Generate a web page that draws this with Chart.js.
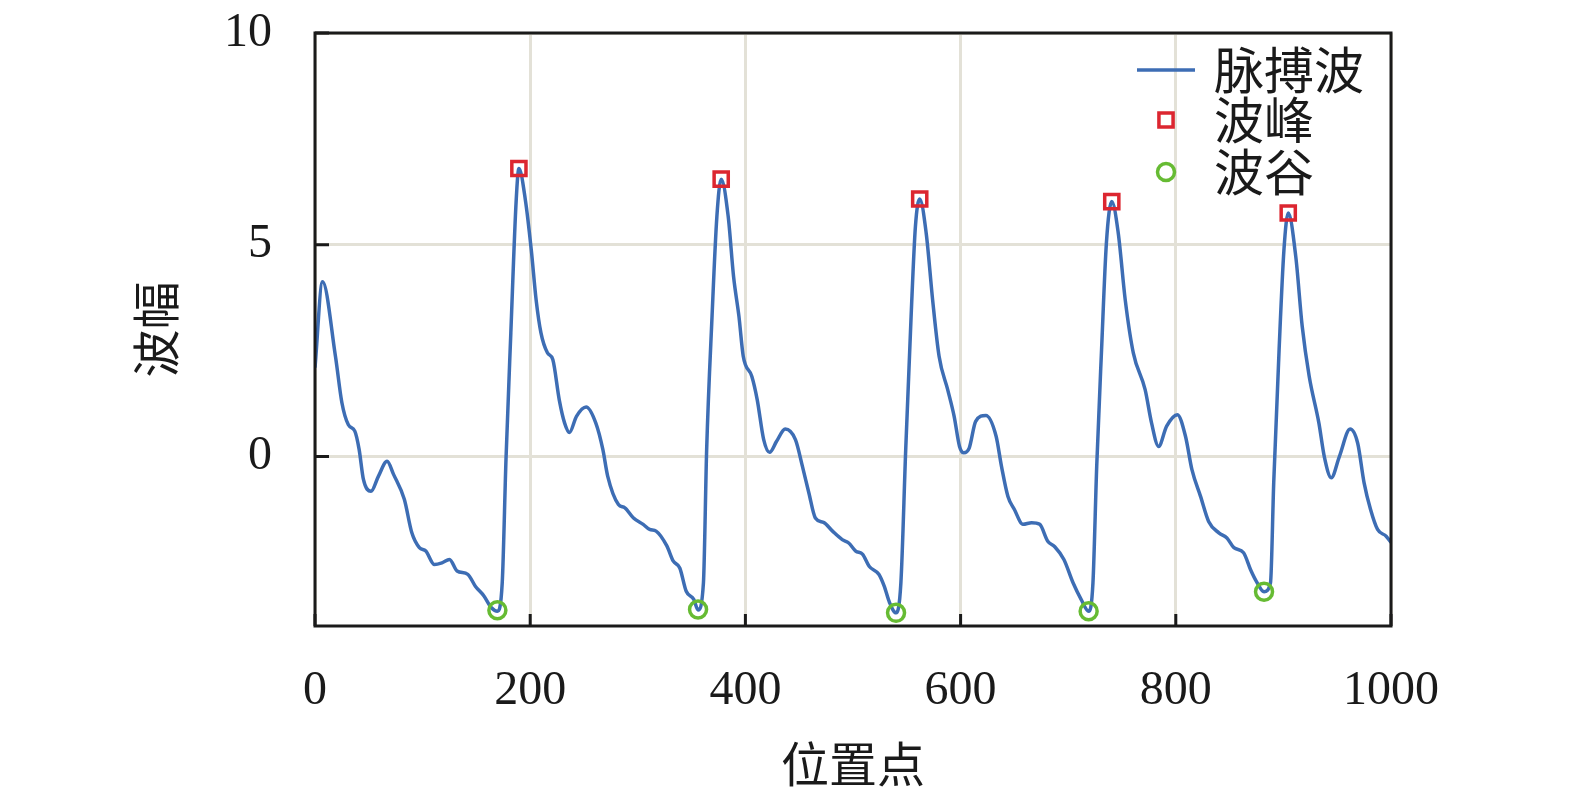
<!DOCTYPE html>
<html>
<head>
<meta charset="utf-8">
<script src="https://cdn.jsdelivr.net/npm/chart.js@4.4.0/dist/chart.umd.min.js"></script>
<style>
  html, body { margin: 0; padding: 0; background: #fff; }
  #c { display: block; }
</style>
</head>
<body>
<canvas id="c" width="1575" height="799"></canvas>
<script>
// pulse wave
const pulseX = [0, 7, 19, 25, 31, 37, 41, 45, 52, 59, 67, 73, 83, 90, 97, 103, 111, 118, 125, 132, 142, 149, 157, 164, 169.5,
  174, 177.5, 182, 187, 189.5, 195.5, 201, 205.5, 210, 216, 221, 227, 232, 236.5, 243, 252, 261, 267.5, 272, 282, 288, 296,
  305, 311, 317, 327, 333, 339, 345, 352, 356, 361, 364, 369, 373.5, 377.5, 384, 389, 394, 398, 406, 411, 417, 422.5, 429,
  437, 446.5, 453, 459, 465, 473, 481, 490, 496, 502.5, 509, 515, 524, 529, 534, 540, 544.5, 549, 554, 558, 562, 568, 574,
  580, 588, 594, 599, 603, 608, 614, 623.5, 633, 638, 644, 650, 658, 666, 673.5, 681, 687.5, 696, 704.5, 712, 719, 723,
  726.5, 731, 735.5, 740.5, 746.5, 753, 760.5, 771.5, 777.5, 784, 791.5, 801.5, 809, 815, 823, 830.5, 840, 847.5, 854, 863,
  869.5, 875, 882, 888, 891, 896, 900.5, 904.5, 911.5, 917.5, 924, 933, 938, 944.5, 952, 962, 969, 975, 981, 987.5, 995.5, 1000];
const pulseY = [2.1, 4.13, 2.37, 1.27, 0.75, 0.6, 0.17, -0.54, -0.82, -0.46, -0.11, -0.42, -1.01, -1.8, -2.15, -2.23, -2.55, -2.51, -2.43, -2.7, -2.78, -3.06, -3.29, -3.57, -3.65,
  -2.98, -0.07, 2.92, 6.06, 6.8, 6.06, 4.88, 3.7, 2.92, 2.45, 2.29, 1.34, 0.79, 0.57, 0.95, 1.17, 0.79, 0.17, -0.46, -1.13, -1.21, -1.45,
  -1.6, -1.72, -1.76, -2.11, -2.47, -2.63, -3.18, -3.37, -3.62, -2.98, 0.17, 3.31, 5.67, 6.55, 5.67, 4.25, 3.31, 2.37, 1.89, 1.34, 0.4, 0.1, 0.36,
  0.65, 0.4, -0.23, -0.86, -1.45, -1.56, -1.76, -1.96, -2.04, -2.23, -2.31, -2.59, -2.78, -3.06, -3.45, -3.69, -2.98, 0.17, 3.31, 5.43, 6.08, 5.28, 3.7,
  2.37, 1.58, 0.95, 0.24, 0.09, 0.2, 0.83, 0.97, 0.48, -0.23, -0.94, -1.25, -1.6, -1.56, -1.6, -2.0, -2.13, -2.43, -2.98, -3.37, -3.65, -2.98,
  -0.23, 2.52, 5.04, 6.02, 5.28, 3.7, 2.45, 1.58, 0.79, 0.24, 0.72, 0.99, 0.48, -0.31, -0.94, -1.53, -1.8, -1.92, -2.15, -2.27,
  -2.67, -2.95, -3.19, -2.98, -0.62, 2.52, 4.88, 5.75, 4.72, 3.07, 1.89, 0.79, 0.0, -0.5, 0.0, 0.65, 0.32, -0.62, -1.25, -1.72, -1.88, -2.03];

const peakX = [189.5, 377.5, 562, 740.5, 904.5];
const peakY = [6.8, 6.55, 6.08, 6.02, 5.75];
const troughX = [169.5, 356, 540, 719, 882];
const troughY = [-3.63, -3.61, -3.69, -3.65, -3.19];

const xTicks = [0, 200, 400, 600, 800, 1000];
const yTicks = [0, 5, 10];
const seriesNames = ["脉搏波", "波峰", "波谷"];
const xTitle = "位置点";
const yTitle = "波幅";

const toPoints = (xs, ys) => xs.map((x, i) => ({ x: x, y: ys[i] }));

const cjk = "'Noto Sans CJK SC', 'Noto Sans CJK JP', sans-serif";
const serif = "'Liberation Serif', 'DejaVu Serif', serif";

// box round the plot + short ticks pointing inwards
const frameTicks = {
  id: "frameTicks",
  afterDatasetsDraw(chart) {
    const { ctx, chartArea: a, scales } = chart;
    ctx.save();
    ctx.strokeStyle = "#1a1a1a";
    ctx.lineWidth = 3;
    ctx.beginPath();
    scales.x.ticks.forEach((t) => {
      const px = scales.x.getPixelForValue(t.value);
      ctx.moveTo(px, a.bottom);
      ctx.lineTo(px, a.bottom - 12);
    });
    scales.y.ticks.forEach((t) => {
      const py = scales.y.getPixelForValue(t.value);
      ctx.moveTo(a.left, py);
      ctx.lineTo(a.left + 14, py);
    });
    ctx.stroke();
    ctx.strokeRect(a.left, a.top, a.right - a.left, a.bottom - a.top);
    ctx.restore();
  },
};

// legend sits inside the plot, top right
const innerLegend = {
  id: "innerLegend",
  afterDraw(chart) {
    const { ctx, chartArea: a } = chart;
    const sampleX = a.right - 225;
    const textX = a.right - 177;
    const rows = [a.top + 37, a.top + 87, a.top + 139];
    ctx.save();
    chart.data.datasets.forEach((ds, i) => {
      const y = rows[i];
      if (ds.showLine !== false) {
        ctx.strokeStyle = ds.borderColor;
        ctx.lineWidth = ds.borderWidth;
        ctx.beginPath();
        ctx.moveTo(sampleX - 29, y);
        ctx.lineTo(sampleX + 29, y);
        ctx.stroke();
      } else {
        ctx.strokeStyle = ds.pointBorderColor;
        ctx.fillStyle = ds.pointBackgroundColor;
        ctx.lineWidth = ds.pointBorderWidth;
        Chart.helpers.drawPoint(ctx, {
          pointStyle: ds.pointStyle,
          radius: ds.pointRadius,
          rotation: 0,
          borderWidth: ds.pointBorderWidth,
        }, sampleX, y);
      }
      ctx.fillStyle = "#1a1a1a";
      ctx.font = "50px " + cjk;
      ctx.textBaseline = "middle";
      ctx.textAlign = "left";
      ctx.fillText(ds.label, textX, y);
    });
    ctx.restore();
  },
};

new Chart(document.getElementById("c"), {
  type: "scatter",
  data: {
    datasets: [
      {
        label: seriesNames[0],
        data: toPoints(pulseX, pulseY),
        showLine: true,
        borderColor: "#3d6db4",
        borderWidth: 3.5,
        pointRadius: 0,
        cubicInterpolationMode: "monotone",
        order: 3,
      },
      {
        label: seriesNames[1],
        data: toPoints(peakX, peakY),
        showLine: false,
        pointStyle: "rect",
        pointRadius: 10,
        pointBorderWidth: 3.5,
        pointBorderColor: "#dc2630",
        pointBackgroundColor: "rgba(0,0,0,0)",
        order: 1,
      },
      {
        label: seriesNames[2],
        data: toPoints(troughX, troughY),
        showLine: false,
        pointStyle: "circle",
        pointRadius: 8.5,
        pointBorderWidth: 3.5,
        pointBorderColor: "#66bb33",
        pointBackgroundColor: "rgba(0,0,0,0)",
        order: 2,
      },
    ],
  },
  options: {
    responsive: false,
    animation: false,
    devicePixelRatio: 1,
    layout: { padding: { left: 0, top: 33, right: 184, bottom: 0 } },
    plugins: { legend: { display: false }, tooltip: { enabled: false } },
    scales: {
      x: {
        type: "linear",
        min: 0,
        max: 1000,
        afterBuildTicks: (s) => { s.ticks = xTicks.map((v) => ({ value: v })); },
        afterFit: (s) => { s.height = 173; s.paddingLeft = 0; s.paddingRight = 0; },
        grid: { color: "#e3e1d7", lineWidth: 3, drawTicks: false },
        border: { display: false },
        ticks: { font: { family: serif, size: 48 }, color: "#1a1a1a", padding: 37, maxRotation: 0, callback: (v) => String(v) },
        title: { display: true, text: xTitle, font: { family: cjk, size: 48, lineHeight: 1 }, color: "#1a1a1a", padding: { top: 0, bottom: 11 } },
      },
      y: {
        min: -4,
        max: 10,
        afterBuildTicks: (s) => { s.ticks = yTicks.map((v) => ({ value: v })); },
        afterFit: (s) => { s.width = 315; s.paddingTop = 0; s.paddingBottom = 0; },
        grid: { color: "#e3e1d7", lineWidth: 3, drawTicks: false },
        border: { display: false },
        ticks: { font: { family: serif, size: 48 }, color: "#1a1a1a", padding: 43, callback: (v) => String(v) },
        title: { display: true, text: yTitle, font: { family: cjk, size: 48, lineHeight: 1 }, color: "#1a1a1a", padding: { top: 132, bottom: 0 } },
      },
    },
  },
  plugins: [frameTicks, innerLegend],
});
</script>
</body>
</html>
